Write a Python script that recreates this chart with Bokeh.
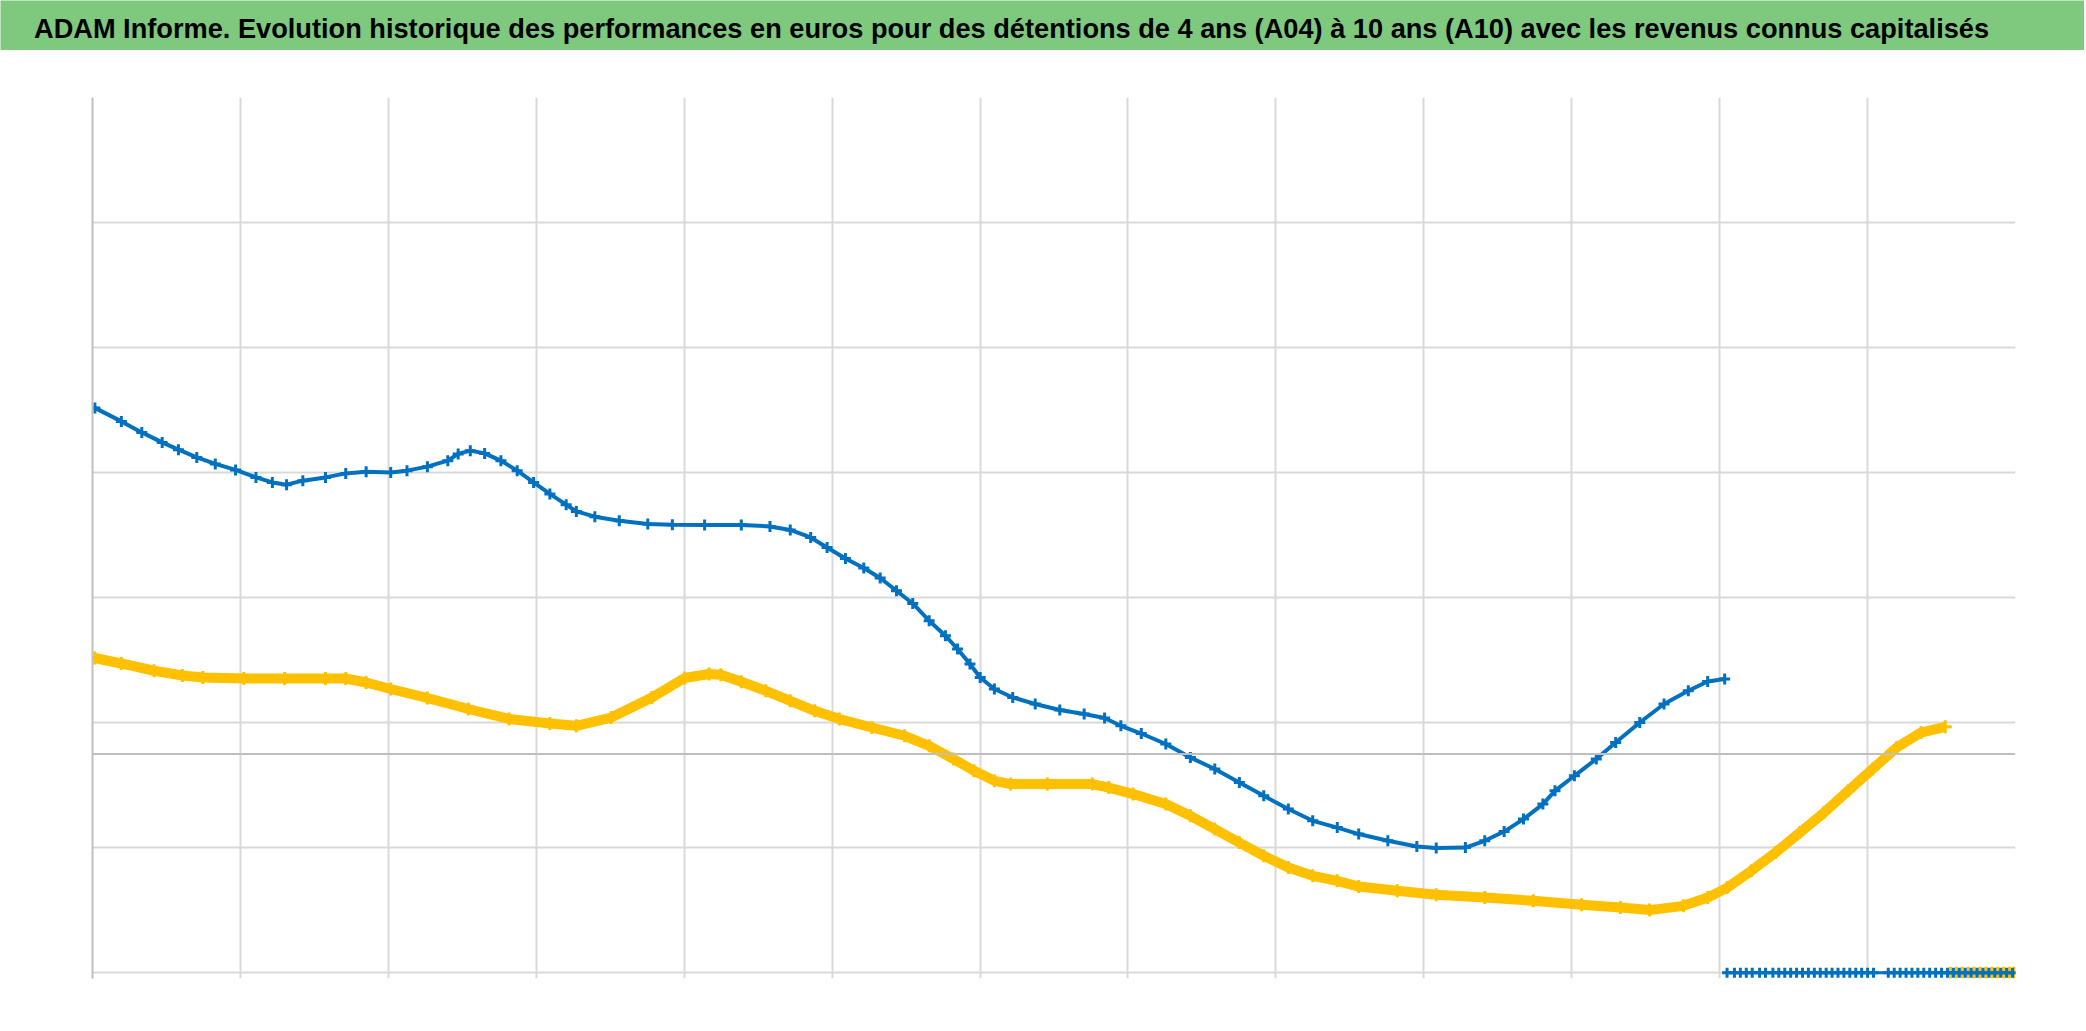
from bokeh.plotting import figure
from bokeh.models import Range1d, FixedTicker, Span, LinearAxis, Grid, ColumnDataSource
from bokeh.layouts import column
from bokeh.embed import file_html
from bokeh.resources import INLINE
from bokeh.core.properties import value

TITLE = ("ADAM Informe. Evolution historique des performances en euros pour des détentions "
         "de 4 ans (A04) à 10 ans (A10) avec les revenus connus capitalisés")

# x: position on the (unlabelled) time axis, one unit per vertical gridline
periods = list(range(0, 14))
# y gridlines (unlabelled), axis crosses at 0
y_gridlines = [-17.5, -7.5, 2.5, 12.5, 22.5, 32.5, 42.5, 52.5]
y_floor = -17.5

# Blue series (A10)
a10_x = [0.016, 0.195, 0.333, 0.471, 0.581, 0.705, 0.830, 0.967, 1.105, 1.216, 1.312, 1.422,
         1.575, 1.712, 1.850, 2.016, 2.126, 2.264, 2.402, 2.472, 2.554, 2.651, 2.761, 2.871,
         2.982, 3.092, 3.202, 3.271, 3.396, 3.561, 3.754, 3.920, 4.138, 4.386, 4.580, 4.717,
         4.855, 4.966, 5.090, 5.214, 5.325, 5.435, 5.545, 5.656, 5.766, 5.848, 5.932, 6.001,
         6.097, 6.221, 6.373, 6.539, 6.704, 6.842, 6.952, 7.090, 7.256, 7.422, 7.587, 7.753,
         7.918, 8.084, 8.249, 8.415, 8.560, 8.757, 8.953, 9.084, 9.281, 9.412, 9.543, 9.674,
         9.805, 9.887, 10.018, 10.166, 10.297, 10.460, 10.624, 10.788, 10.919, 11.034]
a10_y = [27.68, 26.60, 25.72, 24.92, 24.34, 23.72, 23.20, 22.72, 22.12, 21.72, 21.54, 21.86,
         22.12, 22.44, 22.58, 22.52, 22.66, 22.98, 23.46, 24.00, 24.26, 24.04, 23.46, 22.66,
         21.72, 20.80, 19.94, 19.40, 18.98, 18.66, 18.40, 18.34, 18.32, 18.32, 18.20, 17.92,
         17.32, 16.52, 15.64, 14.88, 14.08, 13.06, 12.04, 10.66, 9.46, 8.40, 7.20, 6.12,
         5.20, 4.52, 4.00, 3.52, 3.20, 2.88, 2.26, 1.64, 0.80, -0.28, -1.20, -2.28,
         -3.34, -4.40, -5.34, -5.88, -6.40, -6.94, -7.40, -7.52, -7.48, -6.94, -6.20, -5.20,
         -4.00, -2.94, -1.74, -0.40, 0.92, 2.52, 4.00, 5.06, 5.80, 6.00]
# A10 points without value (drawn on the floor of the axis)
a10_empty_x = [11.05, 11.10, 11.14, 11.18, 11.22, 11.27, 11.31, 11.36, 11.40, 11.44, 11.48,
               11.52, 11.56, 11.60, 11.64, 11.68, 11.72, 11.76, 11.80, 11.84, 11.88, 11.92,
               11.96, 12.00, 12.04, 12.14, 12.18, 12.22, 12.26, 12.30, 12.34, 12.38, 12.42,
               12.46, 12.50, 12.54, 12.58, 12.62, 12.66, 12.70, 12.74, 12.78, 12.82, 12.86,
               12.90, 12.94, 12.98]

# Orange series (A04)
a04_x = [0.016, 0.195, 0.416, 0.608, 0.746, 1.023, 1.299, 1.575, 1.712, 1.850, 2.016, 2.264,
         2.541, 2.816, 3.092, 3.271, 3.506, 3.782, 4.003, 4.168, 4.248, 4.386, 4.552, 4.717,
         4.883, 5.049, 5.269, 5.490, 5.656, 5.821, 5.959, 6.097, 6.207, 6.455, 6.759, 6.870,
         7.035, 7.256, 7.422, 7.587, 7.753, 7.918, 8.084, 8.249, 8.415, 8.560, 8.821, 9.084,
         9.412, 9.740, 10.067, 10.329, 10.526, 10.755, 10.920, 11.051, 11.214, 11.378, 11.542,
         11.706, 11.869, 12.034, 12.197, 12.361, 12.525]
a04_y = [7.68, 7.24, 6.66, 6.28, 6.12, 6.04, 6.04, 6.04, 6.04, 5.72, 5.20, 4.48,
         3.60, 2.80, 2.44, 2.26, 2.92, 4.52, 6.08, 6.40, 6.34, 5.78, 5.06, 4.26,
         3.46, 2.80, 2.12, 1.46, 0.66, -0.40, -1.34, -2.14, -2.40, -2.40, -2.40, -2.68,
         -3.20, -4.00, -4.94, -6.00, -7.08, -8.14, -9.08, -9.74, -10.14, -10.60, -10.94, -11.26,
         -11.48, -11.74, -12.06, -12.28, -12.48, -12.14, -11.48, -10.68, -9.34, -7.88, -6.28,
         -4.68, -2.94, -1.20, 0.52, 1.72, 2.18]
a04_empty_x = [12.56, 12.60, 12.64, 12.68, 12.72, 12.76, 12.80, 12.84, 12.88, 12.92, 12.96, 12.99]

BLUE = "#0070C0"
ORANGE = "#FFC000"
GREEN = "#7EC97E"
W = 2084
HEAD_H = 50
MAIN_H = 979

# ---- header band with the title ----
head = figure(width=W, height=HEAD_H, x_range=Range1d(0, W), y_range=Range1d(0, HEAD_H),
              output_backend="svg", toolbar_location=None, x_axis_type=None, y_axis_type=None,
              min_border=0, outline_line_color=None, title=None, frame_align=False,
              background_fill_color=GREEN, border_fill_color=GREEN)
head.grid.visible = False
head.text(x=[33.5], y=[22.5], text=[TITLE], text_font=value("Liberation Sans"),
          text_font_style="bold", text_font_size="27.2px", text_color="black",
          text_baseline="middle", text_align="left")

# ---- main chart ----
p = figure(width=W, height=MAIN_H, x_range=Range1d(periods[0], periods[-1]),
           y_range=Range1d(y_floor - 0.45, y_gridlines[-1]),
           output_backend="svg", toolbar_location=None, x_axis_type=None, y_axis_type=None,
           min_border_left=92, min_border_right=69, min_border_top=47, min_border_bottom=51,
           outline_line_color=None, title=None, frame_align=False,
           background_fill_color="white", border_fill_color="white")

p.add_layout(Grid(dimension=0, ticker=FixedTicker(ticks=periods),
                  grid_line_color="#D9D9D9", grid_line_width=2))
p.add_layout(Grid(dimension=1, ticker=FixedTicker(ticks=y_gridlines),
                  grid_line_color="#D9D9D9", grid_line_width=2))

yax = LinearAxis(ticker=FixedTicker(ticks=[]), axis_line_color="#BFBFBF", axis_line_width=2,
                 major_tick_line_color=None, minor_tick_line_color=None,
                 major_label_text_font_size="0px")
p.add_layout(yax, "left")
p.add_layout(Span(location=0, dimension="width", line_color="#BFBFBF", line_width=2))

# A04 (orange)
src04 = ColumnDataSource(dict(x=a04_x, y=a04_y))
p.line("x", "y", source=src04, line_color=ORANGE, line_width=10)
p.scatter("x", "y", source=src04, marker="cross", size=13, line_color=ORANGE, line_width=3)
src04e = ColumnDataSource(dict(x=a04_empty_x, y=[y_floor] * len(a04_empty_x)))
p.line("x", "y", source=src04e, line_color=ORANGE, line_width=7)
p.scatter("x", "y", source=src04e, marker="cross", size=12, line_color=ORANGE, line_width=3)

# A10 (blue)
src10 = ColumnDataSource(dict(x=a10_x, y=a10_y))
p.line("x", "y", source=src10, line_color=BLUE, line_width=4)
p.scatter("x", "y", source=src10, marker="cross", size=11, line_color=BLUE, line_width=3)
src10e = ColumnDataSource(dict(x=a10_empty_x, y=[y_floor] * len(a10_empty_x)))
p.line("x", "y", source=src10e, line_color=BLUE, line_width=3)
p.scatter("x", "y", source=src10e, marker="cross", size=10, line_color=BLUE, line_width=3)

layout = column(head, p, spacing=0)
open("out.html", "w").write(file_html(layout, INLINE))
